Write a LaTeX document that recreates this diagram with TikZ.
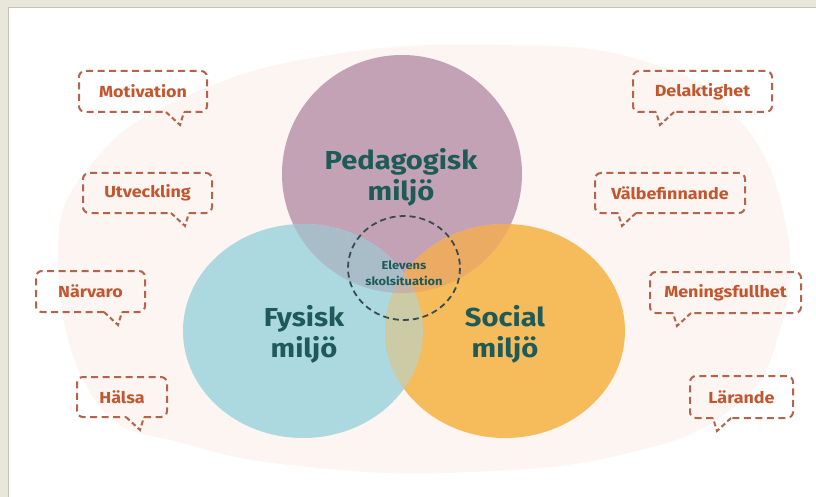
\documentclass[tikz,border=0pt]{standalone}
\usepackage{fontspec}
\setmainfont{Fira Sans}[FakeStretch=1.12]
\definecolor{frame}{HTML}{E9E7DA}
\definecolor{frameline}{HTML}{C4C2B6}
\definecolor{blob}{HTML}{FCF5F1}
\definecolor{purp}{HTML}{C3A2B6}
\definecolor{blu}{HTML}{ACD8E0}
\definecolor{ora}{HTML}{F6BC5B}
\definecolor{pb}{HTML}{A9BDC9}
\definecolor{po}{HTML}{EBAB62}
\definecolor{bo}{HTML}{CBCCA5}
\definecolor{pbo}{HTML}{C6B3A8}
\definecolor{tealtxt}{HTML}{1E5A58}
\definecolor{bubtxt}{HTML}{C2562E}
\definecolor{bubline}{HTML}{B3644A}
\definecolor{ringline}{HTML}{3A4A52}
\tikzset{
  lbl/.style={text=bubtxt, font=\bfseries\fontsize{16}{18}\selectfont, inner sep=0pt},
  bub/.style={draw=bubline, line width=2pt, dash pattern=on 7pt off 4.5pt},
  big/.style={text=tealtxt, font=\bfseries\fontsize{26}{31}\selectfont, align=center, inner sep=0pt},
  ring/.style={draw=ringline, line width=1.8pt, dash pattern=on 6pt off 4pt},
}
\newcommand{\bubL}[6]{%
  \node[lbl] (#1) at ({(#2+#4)/2},{(#3+#5)/2}) {#6};
  \draw[bub, rounded corners=6pt] ({#4-23},#5) -- (#4,#5) -- (#4,#3) -- (#2,#3) -- (#2,#5) -- ({#4-41},#5);
  \draw[bub, dash pattern=on 5pt off 3pt] ({#4-41},#5) -- ({#4-27},{#5+13}) -- ({#4-23},#5);
}
\newcommand{\bubR}[6]{%
  \node[lbl] (#1) at ({(#2+#4)/2},{(#3+#5)/2}) {#6};
  \draw[bub, rounded corners=6pt] ({#2+23},#5) -- (#2,#5) -- (#2,#3) -- (#4,#3) -- (#4,#5) -- ({#2+41},#5);
  \draw[bub, dash pattern=on 5pt off 3pt] ({#2+41},#5) -- ({#2+27},{#5+13}) -- ({#2+23},#5);
}
\begin{document}
\begin{tikzpicture}[x=1pt,y=-1pt]
\useasboundingbox (0,0) rectangle (816,497);
\fill[frame] (0,0) rectangle (816,497);
\fill[white] (8,8) rectangle (816,497);
\draw[frameline, line width=1pt] (8,497) -- (8,8) -- (816,8);
% background blob
\fill[blob] plot[smooth cycle, tension=0.75] coordinates {
 (58,255) (95,160) (190,95) (330,55) (500,45) (640,60) (735,115) (785,220)
 (780,330) (730,410) (620,455) (470,472) (320,468) (190,445) (95,400)};
% circles
\def\Pc{(402,174) ellipse [x radius=120, y radius=119]}
\def\Bc{(303,331) ellipse [x radius=120, y radius=107]}
\def\Oc{(505,331) ellipse [x radius=120, y radius=107]}
\fill[purp] \Pc;
\fill[blu] \Bc;
\fill[ora] \Oc;
\begin{scope}\clip \Pc; \fill[pb] \Bc; \end{scope}
\begin{scope}\clip \Pc; \fill[po] \Oc; \end{scope}
\begin{scope}\clip \Bc; \fill[bo] \Oc; \end{scope}
\begin{scope}\clip \Pc; \clip \Bc; \fill[pbo] \Oc; \end{scope}
% labels
\node[big] (ped) at (401,177) {Pedagogisk\\miljö};
\node[big] (fys) at (304,334) {Fysisk\\miljö};
\node[big] (soc) at (505,334) {Social\\miljö};
\draw[ring] (404,268) ellipse [x radius=56, y radius=52];
\node[text=tealtxt, font=\bfseries\fontsize{11.5}{16}\selectfont, align=center, inner sep=0pt] (elev) at (404,273) {Elevens\\skolsituation};
% callouts
\bubL{mot}{79}{71}{207}{112}{Motivation}
\bubL{utv}{83}{173}{212}{213}{Utveckling}
\bubL{nar}{36}{271}{145}{312}{Närvaro}
\bubL{hal}{77}{377}{167}{417}{Hälsa}
\bubR{del}{633}{71}{772}{112}{Delaktighet}
\bubR{val}{595}{173}{745}{213}{Välbefinnande}
\bubR{men}{650}{272}{801}{313}{Meningsfullhet}
\bubR{lar}{690}{376}{793}{418}{Lärande}
\end{tikzpicture}
\end{document}
